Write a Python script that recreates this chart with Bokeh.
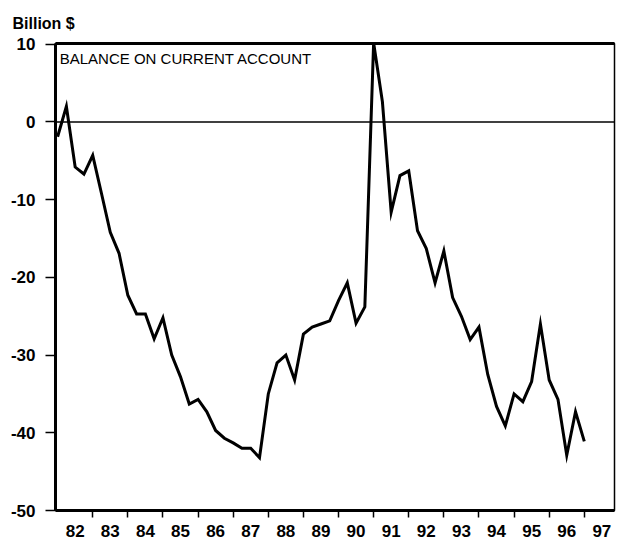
from bokeh.plotting import figure
from bokeh.models import FixedTicker, Span, Label, LinearAxis, ColumnDataSource
from bokeh.embed import file_html
from bokeh.resources import INLINE

# Quarterly balance on current account, billion $, 1982Q1 .. 1997Q1
years = [1982, 1983, 1984, 1985, 1986, 1987, 1988, 1989,
         1990, 1991, 1992, 1993, 1994, 1995, 1996, 1997]
balance = [
    -1.9, 2.0, -5.8, -6.7,        # 82
    -4.3, -9.2, -14.2, -16.9,     # 83
    -22.3, -24.7, -24.7, -27.9,   # 84
    -25.2, -30.0, -32.8, -36.3,   # 85
    -35.7, -37.3, -39.7, -40.7,   # 86
    -41.3, -42.0, -42.0, -43.2,   # 87
    -35.0, -31.0, -30.0, -33.2,   # 88
    -27.3, -26.4, -26.0, -25.6,   # 89
    -23.0, -20.7, -25.9, -23.8,   # 90
    10.2, 2.6, -11.6, -6.9,       # 91
    -6.3, -14.0, -16.3, -20.7,    # 92
    -16.6, -22.6, -25.0, -28.0,   # 93
    -26.4, -32.5, -36.6, -39.1,   # 94
    -35.0, -36.0, -33.4, -26.0,   # 95
    -33.2, -35.7, -42.9, -37.3,   # 96
    -41.1,                        # 97
]
year_labels = ["82", "83", "84", "85", "86", "87", "88", "89",
               "90", "91", "92", "93", "94", "95", "96", "97"]
y_ticks = [-50, -40, -30, -20, -10, 0, 10]
y_labels = ["-50", "-40", "-30", "-20", "-10", "0", "10"]

t = [years[0] + i / 4 for i in range(len(balance))]
src = ColumnDataSource(dict(t=t, v=balance))

p = figure(width=617, height=545, output_backend="svg", toolbar_location=None,
           x_range=(1981.94, 1997.86), y_range=(-50, 10.1),
           min_border_left=55, min_border_right=3, min_border_top=43,
           min_border_bottom=35, x_axis_location=None, y_axis_location=None,
           title="Billion $")
p.background_fill_color = "white"
p.border_fill_color = "white"
p.xgrid.visible = False
p.ygrid.visible = False
p.outline_line_color = "black"
p.outline_line_width = 1.5

p.title.align = "left"
p.title.offset = -43
p.title.text_font = "Liberation Sans"
p.title.text_font_size = "16px"
p.title.text_font_style = "bold"
p.title.text_color = "black"
p.title.standoff = 23

# bottom axis: labels centred in each year, ticks at year boundaries
xa = LinearAxis(ticker=FixedTicker(ticks=[y + 0.5 for y in years],
                                   minor_ticks=years[1:]))
xa.major_label_overrides = {y + 0.5: lab for y, lab in zip(years, year_labels)}
xa.axis_line_width = 3
xa.major_tick_out = 0
xa.major_tick_in = 0
xa.minor_tick_out = 7
xa.minor_tick_in = 0
xa.minor_tick_line_width = 1.5
xa.major_label_standoff = 7
xa.major_label_text_font = "Liberation Sans"
xa.major_label_text_font_style = "bold"
xa.major_label_text_font_size = "17px"
xa.major_label_text_color = "black"
p.add_layout(xa, "below")

ya = LinearAxis(ticker=FixedTicker(ticks=y_ticks))
ya.major_label_overrides = {v: lab for v, lab in zip(y_ticks, y_labels)}
ya.axis_line_width = 3
ya.major_tick_out = 10
ya.major_tick_in = 0
ya.major_tick_line_width = 1.5
ya.minor_tick_out = 0
ya.minor_tick_in = 0
ya.major_label_standoff = 10
ya.major_label_text_font = "Liberation Sans"
ya.major_label_text_font_style = "bold"
ya.major_label_text_font_size = "17px"
ya.major_label_text_color = "black"
p.add_layout(ya, "left")

top = LinearAxis(ticker=FixedTicker(ticks=[]))
top.axis_line_width = 3
top.major_tick_out = 0
top.major_tick_in = 0
top.minor_tick_out = 0
top.minor_tick_in = 0
top.major_label_text_font_size = "0px"
p.add_layout(top, "above")

p.add_layout(Span(location=0, dimension="width", line_color="black", line_width=1.5))

p.line("t", "v", source=src, line_color="black", line_width=3, line_join="miter")

p.add_layout(Label(x=1982.06, y=9.3, text="BALANCE ON CURRENT ACCOUNT",
                   text_font="Liberation Sans", text_font_size="15px",
                   text_baseline="top", text_align="left", text_color="black"))

open("out.html", "w").write(file_html(p, INLINE))
